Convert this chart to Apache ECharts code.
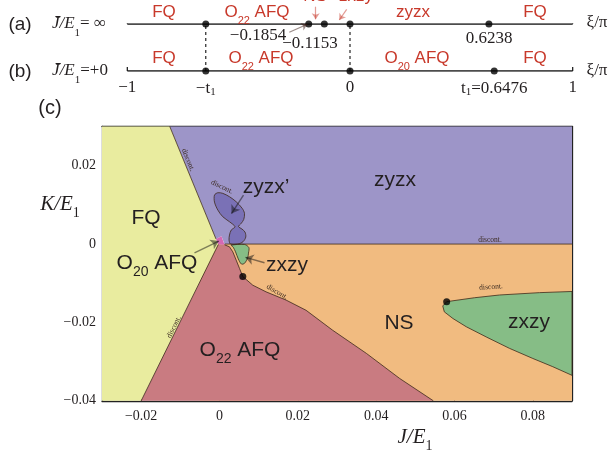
<!DOCTYPE html>
<html><head><meta charset="utf-8">
<script src="https://cdn.jsdelivr.net/npm/echarts@6/dist/echarts.min.js"></script>
<style>html,body{margin:0;padding:0;background:#fff}#c{width:610px;height:457px}</style>
</head><body><div id="c"></div>
<script>
// ---------- panels (a) and (b): xi/pi axis ----------
const xiTicks = [-1, -0.6476, 0, 0.6476, 1];
const xiTickLabels = ['−1', '{n|−t}{s|1}', '0', '{n|t}{s|1}{n|=0.6476}', '1'];
const pointsA = [-0.6476, -0.1854, -0.1153, 0, 0.6238];
const pointsB = [-0.6476, 0, 0.6476];
const dashedXi = [-0.6476, 0];

// ---------- panel (c): phase diagram in (J/E1, K/E1) ----------
const xTicks = [-0.02, 0, 0.02, 0.04, 0.06, 0.08];
const fqZyzxLine = [[-0.0127, 0.03], [-0.0009, 0.0013]];
const fqO22Line = [[-0.0003, -0.0001], [-0.0200, -0.04]];
const o22NsCurve = [[0.0013,-0.0002],[0.00255,-0.0007],[0.0034,-0.0020],[0.00426,-0.0041],[0.0051,-0.0062],
  [0.00595,-0.0083],[0.0085,-0.0105],[0.0119,-0.0122],[0.0170,-0.0143],[0.0221,-0.0169],[0.0289,-0.0220],
  [0.0375,-0.0279],[0.0460,-0.0343],[0.0546,-0.04]];
const zyzxNsLine = [[0.0013, 0], [0.09, 0]];
const zxzyBigUpper = [[0.0580,-0.0147],[0.0651,-0.0137],[0.0715,-0.0130],[0.0817,-0.0124],[0.09,-0.0121]];
const zxzyBigLower = [[0.0580,-0.0147],[0.0570,-0.0158],[0.0574,-0.0173],[0.0596,-0.0190],[0.0630,-0.0211],
  [0.0681,-0.0237],[0.0740,-0.0266],[0.0800,-0.0292],[0.0851,-0.0313],[0.09,-0.0335]];
const zxzySmall = [[0.0030,-0.0003],[0.0064,-0.0001],[0.0075,-0.0009],[0.0074,-0.0023],[0.0072,-0.0035],
  [0.0064,-0.0049],[0.0056,-0.0051],[0.0048,-0.0038],[0.0041,-0.0020],[0.0035,-0.0008]];
const zyzxPrime = [[-0.00128,0.01251],[-0.00043,0.0131],[0.00084,0.01294],[0.00255,0.01208],[0.00426,0.0108],
  [0.0058,0.00911],[0.00638,0.00784],[0.0062,0.00631],[0.00554,0.00528],[0.00485,0.00447],[0.00574,0.00383],
  [0.00651,0.00306],[0.00671,0.00179],[0.006,0.00059],[0.00467,0],[0.00281,0],[0.00243,0.00102],
  [0.00255,0.0023],[0.00299,0.00357],[0.00396,0.00442],[0.00255,0.00569],[0.00084,0.00697],
  [-0.00043,0.00868],[-0.00128,0.01072]];
const o20Region = [[-0.0009,0.0013],[0.0005,0.0020],[0.0013,-0.0002],[-0.0003,-0.0001]];
const criticalDots = [[0.00595,-0.0083],[0.0580,-0.0147]];
const xRange = [-0.03, 0.09];
const yRange = [-0.04, 0.03];

const SANS = '"Liberation Sans", Arial, sans-serif';
const SERIF = '"Liberation Serif", "Times New Roman", serif';
const RED = '#c8392b';
const INK = '#231f20';
const EDGE = '#3d2a1a';

const nsRect = [[-0.005,0],[xRange[1],0],[xRange[1],yRange[0]],[-0.005,yRange[0]]];
const zyzxPoly = [fqZyzxLine[0],[xRange[1],yRange[1]],[xRange[1],0],zyzxNsLine[0],o20Region[1],fqZyzxLine[1]];
const fqPoly = [[xRange[0],yRange[1]],fqZyzxLine[0],fqZyzxLine[1],fqO22Line[0],fqO22Line[1],[xRange[0],yRange[0]]];
const o22Poly = [fqO22Line[0]].concat(o22NsCurve, [fqO22Line[1]]);
const zxzyBigPoly = zxzyBigUpper.concat(zxzyBigLower.slice().reverse());

const regions = [
  {pts: nsRect, color:'#f1bb80'},
  {pts: zyzxPoly, color:'#9d95c8'},
  {pts: fqPoly, color:'#e9ec9f'},
  {pts: o22Poly, color:'#c97b81'},
  {pts: zxzyBigPoly, color:'#86bd86', stroke:EDGE},
  {pts: zxzySmall, color:'#86bd86', stroke:EDGE, smooth:0.3},
  {pts: zyzxPrime, color:'#7a71b6', stroke:EDGE, smooth:0.3},
  {pts: o20Region, color:'#d468b4'}
];

const chart = echarts.init(document.getElementById('c'), null, {renderer:'canvas', width:610, height:457});

function fmtMain(v){
  const r = Math.round(v*100);
  if (r === 0) return '0';
  return (r<0?'−':'') + (Math.abs(r)/100).toFixed(2);
}

const seg = (data, extra) => Object.assign({type:'line', xAxisIndex:0, yAxisIndex:0, data, showSymbol:false,
  symbol:'none', silent:true, lineStyle:{color:'#111', width:1.6}, z:3}, extra||{});

const series = [];
// panel a,b lines
series.push(seg([[-1,1],[1,1]]));
series.push(seg([[-1,0],[1,0]]));
[[-1,1],[1,1],[-1,0],[1,0]].forEach(p => series.push(seg([p,[p[0],p[1]+0.085]], {lineStyle:{color:'#111',width:1.2}})));
dashedXi.forEach(x => series.push(seg([[x,0],[x,1]], {lineStyle:{color:'#111',width:1.1,type:[3,3]}})));
series.push({type:'scatter', xAxisIndex:0, yAxisIndex:0, symbolSize:7, itemStyle:{color:'#000'}, z:5,
  data: pointsA.map(x=>[x,1]).concat(pointsB.map(x=>[x,0]))});
series.push({type:'lines', coordinateSystem:'cartesian2d', xAxisIndex:0, yAxisIndex:0, clip:false, z:6,
  symbol:['none','arrow'], symbolSize:6,
  data:[
    {coords:[[-0.2726,0.823],[-0.1917,0.994]], lineStyle:{color:'#3a1a14', width:1.2}},
    {coords:[[-0.154,1.368],[-0.154,1.1]], lineStyle:{color:RED, width:1.2}},
    {coords:[[-0.0148,1.313],[-0.048,1.085]], lineStyle:{color:RED, width:1.2}}
  ]});

// panel c regions
series.push({type:'custom', xAxisIndex:1, yAxisIndex:1, z:1, silent:true,
  data: regions.map(r => r.pts[0]),
  renderItem: (params, api) => {
    const r = regions[params.dataIndex];
    return {type:'polygon', shape:{points: r.pts.map(p => api.coord(p)), smooth: r.smooth||0},
      style:{fill:r.color, stroke:r.stroke||null, lineWidth:0.8}};
  }});
// boundaries
[fqZyzxLine, fqO22Line, o22NsCurve, zyzxNsLine].forEach(b => series.push({type:'line', xAxisIndex:1, yAxisIndex:1,
  data:b, showSymbol:false, symbol:'none', silent:true, z:2, lineStyle:{color:EDGE, width:0.8}}));
series.push({type:'scatter', xAxisIndex:1, yAxisIndex:1, symbolSize:7, itemStyle:{color:'#000'}, z:4, data:criticalDots});
series.push({type:'lines', coordinateSystem:'cartesian2d', xAxisIndex:1, yAxisIndex:1, z:6,
  symbol:['none','arrow'], symbolSize:8, lineStyle:{color:'#111', width:1.4},
  data:[
    {coords:[[0.00613,0.01251],[0.00306,0.00779]]},
    {coords:[[0.01149,-0.00477],[0.00664,-0.0034]]},
    {coords:[[-0.00638,-0.00222],[-0.00018,0.00077]]}
  ]});

const txt = (text, x, y, o) => ({type:'text', x, y, z:50, silent:true, rotation:(o&&o.rot)||0,
  style:Object.assign({text, textAlign:'center', textVerticalAlign:'middle', verticalAlign:'middle',
    fill:INK, fontFamily:SANS, fontSize:21}, (o&&o.style)||{})});
const subRich = (fs, fam, col, style) => ({
  n:{fontSize:fs, fontFamily:fam, fill:col, color:col, fontStyle:style||'normal', lineHeight:fs+6, verticalAlign:'top'},
  s:{fontSize:Math.round(fs*0.66), fontFamily:fam, fill:col, color:col, lineHeight:Math.round(fs*0.66), verticalAlign:'bottom'},
  i:{fontSize:fs, fontFamily:SERIF, fill:col, color:col, fontStyle:'italic', lineHeight:fs+6, verticalAlign:'top'},
  u:{fontSize:fs, fontFamily:SERIF, fill:col, color:col, lineHeight:fs+6, verticalAlign:'top'}
});
const disc = (x,y,deg) => txt('discont.', x, y, {rot:deg*Math.PI/180, style:{fontFamily:SERIF, fontSize:7.5, fill:'#3a2a20'}});

const graphic = [
  txt('(a)', 20, 25, {style:{fontSize:19}}),
  txt('(b)', 20, 72, {style:{fontSize:19}}),
  txt('{i|J̄/E}{s|1}{u|= ∞}', 79, 27, {style:{rich:subRich(17, SERIF, INK)}}),
  txt('{i|J̄/E}{s|1}{u|=+0}', 80, 74, {style:{rich:subRich(17, SERIF, INK)}}),
  txt('ξ/π', 597, 23, {style:{fontFamily:SERIF, fontSize:17}}),
  txt('ξ/π', 597, 71, {style:{fontFamily:SERIF, fontSize:17}}),
  txt('FQ', 164, 12, {style:{fill:RED, fontSize:17}}),
  txt('{n|O}{s|22}{n| AFQ}', 257, 15, {style:{rich:subRich(17, SANS, RED)}}),
  txt('NS', 315, -4, {style:{fill:RED, fontSize:17}}),
  txt('zxzy', 356, -4, {style:{fill:RED, fontSize:17}}),
  txt('zyzx', 413, 12, {style:{fill:RED, fontSize:17}}),
  txt('FQ', 535, 12, {style:{fill:RED, fontSize:17}}),
  txt('FQ', 164, 58, {style:{fill:RED, fontSize:17}}),
  txt('{n|O}{s|22}{n| AFQ}', 261, 61, {style:{rich:subRich(17, SANS, RED)}}),
  txt('{n|O}{s|20}{n| AFQ}', 417, 61, {style:{rich:subRich(17, SANS, RED)}}),
  txt('FQ', 535, 58, {style:{fill:RED, fontSize:17}}),
  txt('−0.1854', 258, 36, {style:{fontFamily:SERIF, fontSize:17}}),
  txt('−0.1153', 310, 44, {style:{fontFamily:SERIF, fontSize:17}}),
  txt('0.6238', 489, 39, {style:{fontFamily:SERIF, fontSize:17}}),
  // panel c
  txt('(c)', 50, 108, {style:{fontSize:20}}),
  txt('{i|K/E}{s|1}', 60, 207, {style:{rich:subRich(21, SERIF, INK)}}),
  txt('{i|J/E}{s|1}', 415, 440, {style:{rich:subRich(21, SERIF, INK)}}),
  txt('FQ', 146, 218),
  txt('zyzx', 395, 180),
  txt('zyzx’', 266, 187),
  txt('zxzy', 287, 265),
  txt('{n|O}{s|20}{n| AFQ}', 157, 266, {style:{rich:subRich(21, SANS, INK)}}),
  txt('{n|O}{s|22}{n| AFQ}', 240, 353, {style:{rich:subRich(21, SANS, INK)}}),
  txt('NS', 399, 323),
  txt('zxzy', 529, 322),
  disc(188, 160, -67.6),
  disc(222, 187, -25.5),
  disc(490, 240, 0),
  disc(277, 292, -31),
  disc(491, 287, 3.5),
  disc(174, 327, 63.4)
];

const axisCommonMain = {type:'value', gridIndex:1, splitLine:{show:false},
  axisLine:{show:true, onZero:false, lineStyle:{color:'#222', width:1.3}},
  axisTick:{show:true, inside:true, length:5, lineStyle:{color:'#222', width:1}}};

chart.setOption({
  animation:false,
  backgroundColor:'#fff',
  grid:[
    {left:127.3, right:37.3, top:24, height:47},
    {left:102, right:38, top:126.5, bottom:56.2}
  ],
  xAxis:[
    {type:'value', gridIndex:0, min:-1, max:1, splitLine:{show:false}, axisLine:{show:false}, axisTick:{show:false},
      axisLabel:{customValues:xiTicks, margin:8, fontFamily:SERIF, fontSize:17, color:INK,
        formatter:(v)=>{const i = xiTicks.findIndex(t=>Math.abs(t-v)<1e-6); return i>=0?xiTickLabels[i]:'';},
        rich:{n:{fontFamily:SERIF, fontSize:17, color:INK}, s:{fontFamily:SERIF, fontSize:11, color:INK, padding:[8,0,0,0]}}}},
    Object.assign({}, axisCommonMain, {min:xRange[0], max:xRange[1], position:'bottom',
      axisTick:Object.assign({}, axisCommonMain.axisTick, {customValues:xTicks}),
      axisLabel:{customValues:xTicks, formatter:fmtMain, margin:9, fontFamily:SERIF, fontSize:14, color:INK}}),
    Object.assign({}, axisCommonMain, {min:xRange[0], max:xRange[1], position:'top',
      axisTick:Object.assign({}, axisCommonMain.axisTick, {customValues:xTicks}),
      axisLabel:{show:false}})
  ],
  yAxis:[
    {type:'value', gridIndex:0, min:0, max:1, show:false},
    Object.assign({}, axisCommonMain, {min:yRange[0], max:yRange[1], interval:0.01, position:'left',
      axisLabel:{margin:6, fontFamily:SERIF, fontSize:14, color:INK,
        formatter:(v)=> (Math.round(v*100)%2===0 ? fmtMain(v) : '')}}),
    Object.assign({}, axisCommonMain, {min:yRange[0], max:yRange[1], interval:0.01, position:'right',
      axisLabel:{show:false}})
  ],
  series,
  graphic
});
</script></body></html>
